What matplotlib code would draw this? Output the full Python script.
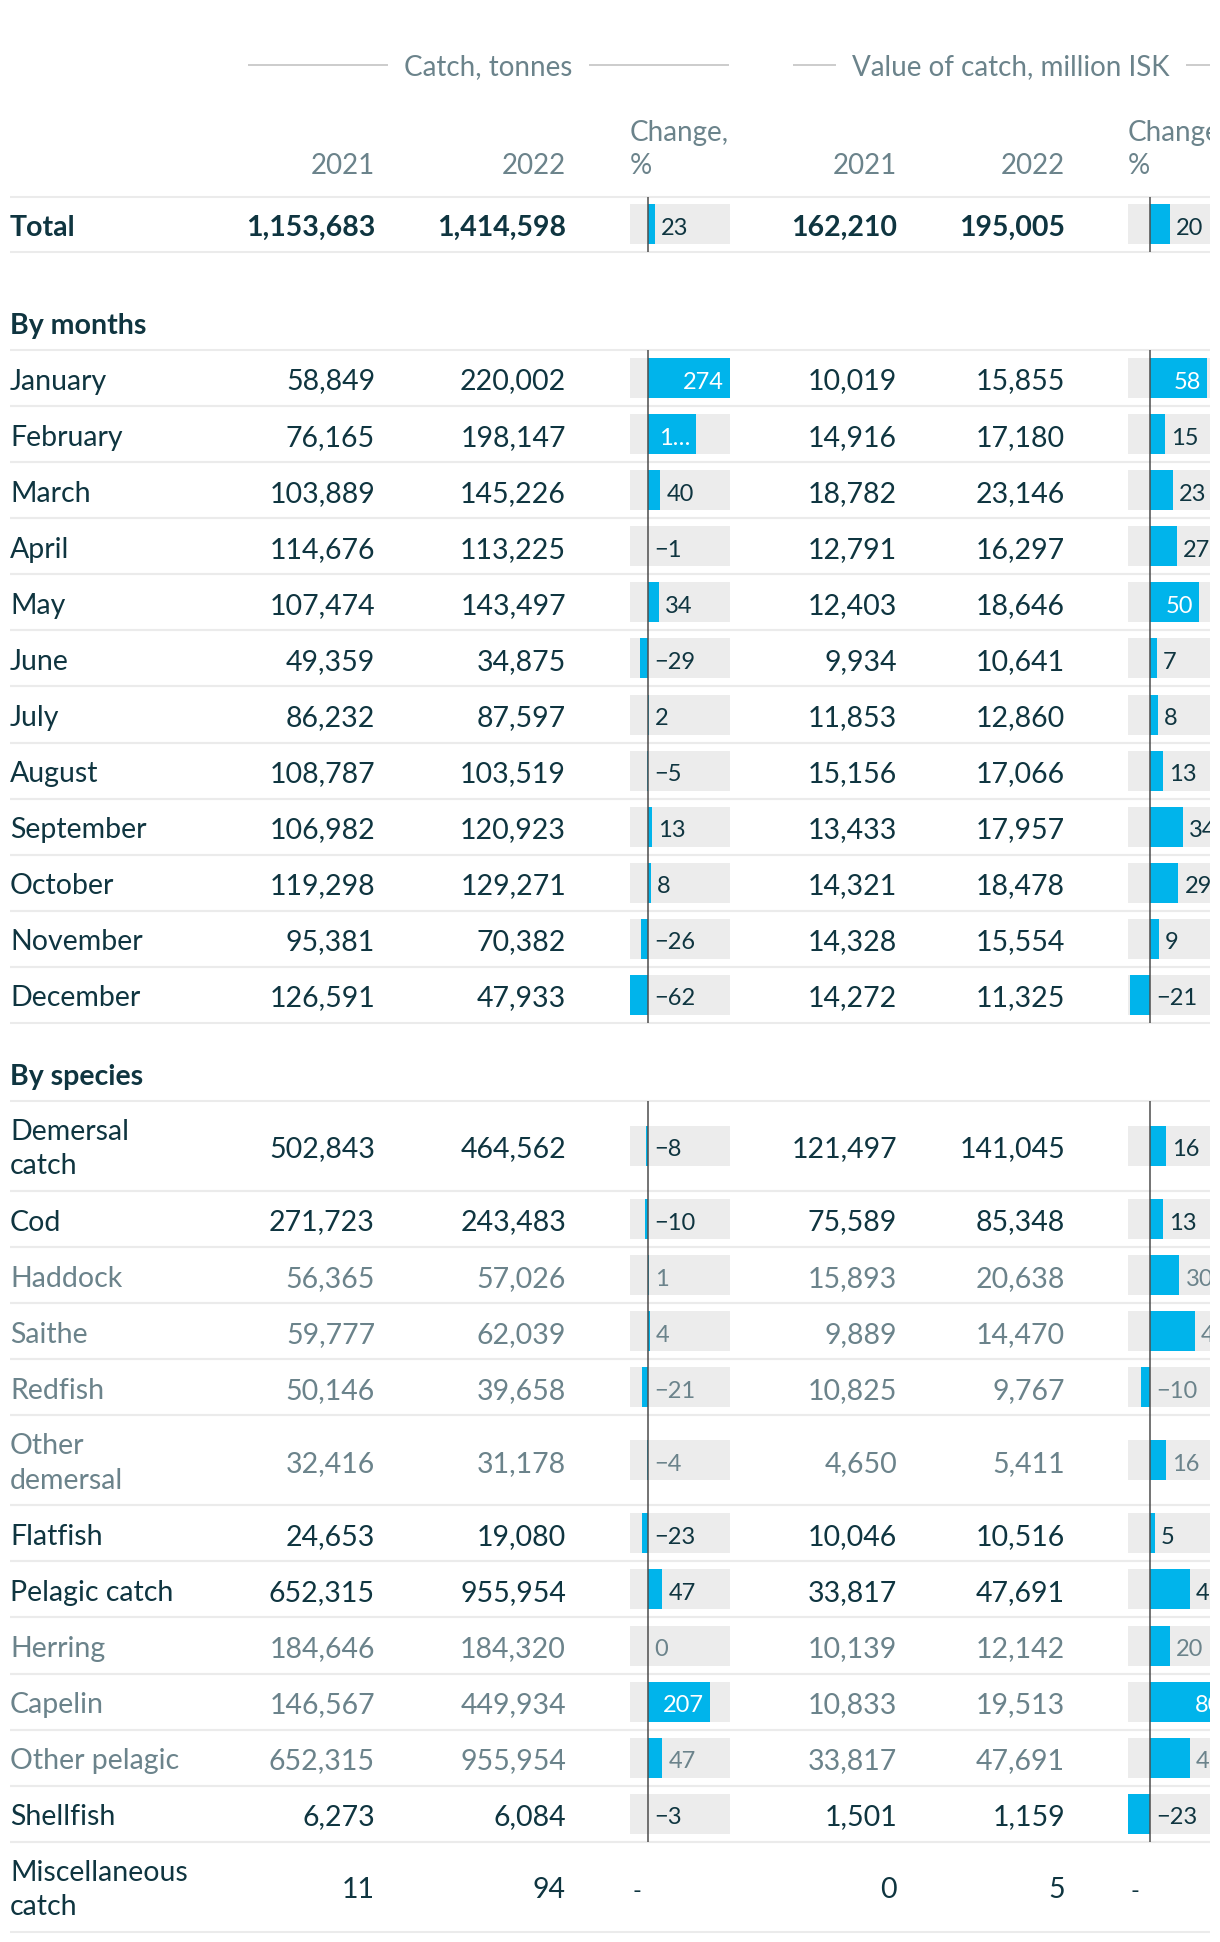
"""Catch and value of catch 2021 vs 2022, table with change bars."""

import matplotlib

matplotlib.use("Agg")
import matplotlib.pyplot as plt
from matplotlib.patches import Rectangle

plt.rcParams["font.family"] = ["Lato", "DejaVu Sans"]

# ---- data -------------------------------------------------------------
TOTAL_CATCH = [1153683, 1414598]
TOTAL_CATCH_CHANGE = 23
TOTAL_VALUE = [162210, 195005]
TOTAL_VALUE_CHANGE = 20

MONTHS = ["January", "February", "March", "April", "May", "June", "July",
          "August", "September", "October", "November", "December"]
MONTH_CATCH_2021 = [58849, 76165, 103889, 114676, 107474, 49359, 86232,
                    108787, 106982, 119298, 95381, 126591]
MONTH_CATCH_2022 = [220002, 198147, 145226, 113225, 143497, 34875, 87597,
                    103519, 120923, 129271, 70382, 47933]
MONTH_CATCH_CHANGE = [274, 160, 40, -1, 34, -29, 2, -5, 13, 8, -26, -62]
MONTH_VALUE_2021 = [10019, 14916, 18782, 12791, 12403, 9934, 11853, 15156,
                    13433, 14321, 14328, 14272]
MONTH_VALUE_2022 = [15855, 17180, 23146, 16297, 18646, 10641, 12860, 17066,
                    17957, 18478, 15554, 11325]
MONTH_VALUE_CHANGE = [58, 15, 23, 27, 50, 7, 8, 13, 34, 29, 9, -21]

SPECIES = ["Demersal\ncatch", "Cod", "Haddock", "Saithe", "Redfish",
           "Other\ndemersal", "Flatfish", "Pelagic catch", "Herring",
           "Capelin", "Other pelagic", "Shellfish", "Miscellaneous\ncatch"]
SPECIES_SUBGROUP = [False, False, True, True, True, True, False, False,
                    True, True, True, False, False]
SPECIES_CATCH_2021 = [502843, 271723, 56365, 59777, 50146, 32416, 24653,
                      652315, 184646, 146567, 652315, 6273, 11]
SPECIES_CATCH_2022 = [464562, 243483, 57026, 62039, 39658, 31178, 19080,
                      955954, 184320, 449934, 955954, 6084, 94]
SPECIES_CATCH_CHANGE = [-8, -10, 1, 4, -21, -4, -23, 47, 0, 207, 47, -3, None]
SPECIES_VALUE_2021 = [121497, 75589, 15893, 9889, 10825, 4650, 10046, 33817,
                      10139, 10833, 33817, 1501, 0]
SPECIES_VALUE_2022 = [141045, 85348, 20638, 14470, 9767, 5411, 10516, 47691,
                      12142, 19513, 47691, 1159, 5]
SPECIES_VALUE_CHANGE = [16, 13, 30, 46, -10, 16, 5, 41, 20, 80, 41, -23, None]

# ---- layout (pixels, y from the top) -----------------------------------
W, H, DPI = 1220, 1942, 100
CLIP_X = 1210    # the table is cut off here, white beyond
DARK = "#0f3540"
GREY = "#6b838b"
BLUE = "#00b4eb"
BOX = "#ececec"
RULE = "#ebebeb"
ZERO = "#4d4d4d"
FS = 20.5
FS_HEAD = 20
FS_BAR = 17
BASE = 11.5      # baseline offset below row centre
BASE_BAR = 10.5

LABEL_X = 10
CATCH_COLS = [375, 566]
VALUE_COLS = [897, 1065]
CATCH_BOX_X = 630
VALUE_BOX_X = 1128
BOX_W = 100
BAR_H = 40
ROW_H = 56.08
ROW_H2 = 90
INSIDE_MIN_PX = 46


def fmt(n):
    return f"{n:,}"


def fmt_change(v):
    return str(v).replace("-", "\u2212")


def build_rows():
    rows = []
    rows.append(dict(section="total", label="Total", top=197, h=55, sub=False,
                     bold=True, c=TOTAL_CATCH, cc=TOTAL_CATCH_CHANGE,
                     v=TOTAL_VALUE, vc=TOTAL_VALUE_CHANGE))
    top = 350
    for i, m in enumerate(MONTHS):
        rows.append(dict(section="months", label=m, top=top, h=ROW_H,
                         sub=False, bold=False,
                         c=[MONTH_CATCH_2021[i], MONTH_CATCH_2022[i]],
                         cc=MONTH_CATCH_CHANGE[i],
                         v=[MONTH_VALUE_2021[i], MONTH_VALUE_2022[i]],
                         vc=MONTH_VALUE_CHANGE[i]))
        top += ROW_H
    top = 1101
    for i, s in enumerate(SPECIES):
        h = ROW_H2 if "\n" in s else ROW_H
        rows.append(dict(section="species", label=s, top=top, h=h,
                         sub=SPECIES_SUBGROUP[i], bold=False,
                         c=[SPECIES_CATCH_2021[i], SPECIES_CATCH_2022[i]],
                         cc=SPECIES_CATCH_CHANGE[i],
                         v=[SPECIES_VALUE_2021[i], SPECIES_VALUE_2022[i]],
                         vc=SPECIES_VALUE_CHANGE[i]))
        top += h
    return rows


def bar_axes(fig, left_px, domain):
    ax = fig.add_axes([left_px / W, 0, BOX_W / W, 1])
    ax.set_xlim(*domain)
    ax.set_ylim(H, 0)
    ax.axis("off")
    ax.patch.set_alpha(0)
    return ax


def draw_change(ax, rows, key, domain, renderer):
    lo, hi = domain
    px_per_unit = BOX_W / (hi - lo)
    bar_rows = [r for r in rows if r[key] is not None]
    centers = [r["top"] + r["h"] / 2 for r in bar_rows]
    vals = [r[key] for r in bar_rows]
    ax.barh(centers, [hi - lo] * len(vals), left=lo, height=BAR_H,
            color=BOX, zorder=1)
    ax.barh(centers, vals, height=BAR_H, color=BLUE, zorder=2)

    for r, y, v in zip(bar_rows, centers, vals):
        col = GREY if r["sub"] else DARK
        base = y + BASE_BAR
        pw = abs(v) * px_per_unit
        if v > 0 and pw >= INSIDE_MIN_PX:
            txt = fmt_change(v)
            t = ax.annotate(txt, xy=(v, base), xytext=(-6, 0),
                            textcoords="offset pixels", ha="right",
                            va="baseline", fontsize=FS_BAR, color="white",
                            zorder=4, annotation_clip=False)
            # shorten the label with an ellipsis if it does not fit the bar
            while t.get_window_extent(renderer).width > pw - 12 and len(txt) > 1:
                txt = txt.rstrip("\u2026")[:-1] + "\u2026"
                t.set_text(txt)
        else:
            ax.annotate(fmt_change(v), xy=(max(v, 0), base), xytext=(6, 0),
                        textcoords="offset pixels", ha="left", va="baseline",
                        fontsize=FS_BAR, color=col, zorder=4,
                        annotation_clip=False)

    # zero line, one segment per section
    for sec in ("total", "months", "species"):
        sr = [r for r in bar_rows if r["section"] == sec]
        ax.vlines(0, sr[0]["top"], sr[-1]["top"] + sr[-1]["h"],
                  color=ZERO, lw=1.1, zorder=3)


def main():
    rows = build_rows()
    fig = plt.figure(figsize=(W / DPI, H / DPI), dpi=DPI)
    fig.patch.set_facecolor("white")
    ax = fig.add_axes([0, 0, 1, 1])
    ax.set_xlim(0, W)
    ax.set_ylim(H, 0)
    ax.axis("off")
    renderer = fig.canvas.get_renderer()

    # group headers with rules either side
    for title, x0, x1 in [("Catch, tonnes", 248, 729),
                          ("Value of catch, million ISK", 793, 1229)]:
        cx = (x0 + x1) / 2
        t = ax.text(cx, 75, title, ha="center", va="baseline",
                    fontsize=FS_HEAD, color=GREY)
        half = t.get_window_extent(renderer).width / 2
        ax.hlines(65, x0, cx - half - 16, color="#cccccc", lw=1.4)
        ax.hlines(65, cx + half + 16, x1, color="#cccccc", lw=1.4)

    for cols, box_x in [(CATCH_COLS, CATCH_BOX_X), (VALUE_COLS, VALUE_BOX_X)]:
        for x, yr in zip(cols, ["2021", "2022"]):
            ax.text(x, 174, yr, ha="right", va="baseline", fontsize=FS_HEAD,
                    color=GREY)
        ax.text(box_x, 141, "Change,", ha="left", va="baseline",
                fontsize=FS_HEAD, color=GREY)
        ax.text(box_x, 174, "%", ha="left", va="baseline",
                fontsize=FS_HEAD, color=GREY)

    # section headings
    ax.text(LABEL_X, 334, "By months", ha="left", va="baseline", fontsize=FS,
            color=DARK, fontweight="bold")
    ax.text(LABEL_X, 1085, "By species", ha="left", va="baseline",
            fontsize=FS, color=DARK, fontweight="bold")

    # row rules and text
    for r in rows:
        top, h = r["top"], r["h"]
        ax.hlines([top, top + h], LABEL_X, W, color=RULE, lw=1.5, zorder=0)
        y = top + h / 2
        col = GREY if r["sub"] else DARK
        weight = "bold" if r["bold"] else "normal"
        lines = r["label"].split("\n")
        if len(lines) == 1:
            ax.text(LABEL_X, y + BASE, lines[0], ha="left", va="baseline",
                    fontsize=FS, color=col, fontweight=weight)
        else:
            ax.text(LABEL_X, y - 6, lines[0], ha="left", va="baseline",
                    fontsize=FS, color=col, fontweight=weight)
            ax.text(LABEL_X, y + 28.5, lines[1], ha="left", va="baseline",
                    fontsize=FS, color=col, fontweight=weight)
        for x, n in zip(CATCH_COLS + VALUE_COLS, r["c"] + r["v"]):
            ax.text(x, y + BASE, fmt(n), ha="right", va="baseline",
                    fontsize=FS, color=col, fontweight=weight)
        if r["cc"] is None:
            ax.text(CATCH_BOX_X + 3, y + BASE, "-", ha="left", va="baseline",
                    fontsize=FS_BAR, color=DARK)
        if r["vc"] is None:
            ax.text(VALUE_BOX_X + 3, y + BASE, "-", ha="left", va="baseline",
                    fontsize=FS_BAR, color=DARK)

    catch_all = [r["cc"] for r in rows if r["cc"] is not None]
    value_all = [r["vc"] for r in rows if r["vc"] is not None]
    catch_dom = (min(catch_all), max(catch_all))
    value_dom = (min(value_all), max(value_all))

    ax_c = bar_axes(fig, CATCH_BOX_X, catch_dom)
    draw_change(ax_c, rows, "cc", catch_dom, renderer)
    ax_v = bar_axes(fig, VALUE_BOX_X, value_dom)
    draw_change(ax_v, rows, "vc", value_dom, renderer)

    # the source table is cropped at its right edge
    fig.add_artist(Rectangle((CLIP_X / W, 0), (W - CLIP_X) / W, 1,
                             transform=fig.transFigure, facecolor="white",
                             edgecolor="none", zorder=10))

    fig.savefig("out.png", dpi=DPI, facecolor="white")


if __name__ == "__main__":
    main()
